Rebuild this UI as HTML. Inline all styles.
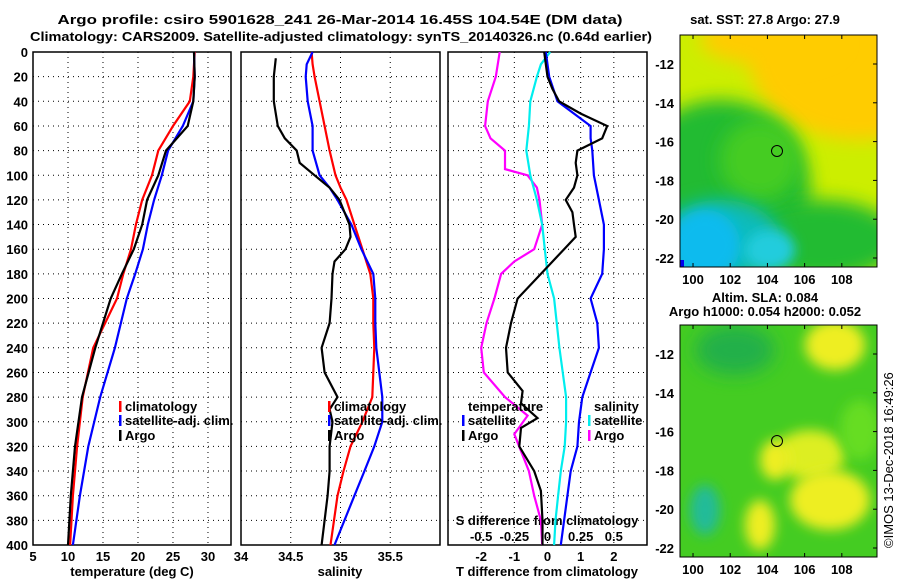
<!DOCTYPE html>
<html><head><meta charset="utf-8"><style>
body{margin:0;background:#fff}
svg text{font-family:"Liberation Sans",sans-serif;font-weight:bold;font-size:13px;fill:#000}
</style></head><body>
<svg id="c" width="900" height="580" xmlns="http://www.w3.org/2000/svg">
<defs>
<filter id="bl" x="-50%" y="-50%" width="200%" height="200%"><feGaussianBlur stdDeviation="9"/></filter>
<filter id="bl2" x="-50%" y="-50%" width="200%" height="200%"><feGaussianBlur stdDeviation="6"/></filter>
<clipPath id="m1"><rect x="680" y="35" width="197" height="232"/></clipPath>
<clipPath id="m2"><rect x="680" y="325" width="197" height="232"/></clipPath>
</defs>
<text x="340" y="24" text-anchor="middle" font-size="15" textLength="565" lengthAdjust="spacingAndGlyphs">Argo profile: csiro 5901628_241 26-Mar-2014 16.45S 104.54E (DM data)</text>
<text x="341" y="41" text-anchor="middle" font-size="15" textLength="622" lengthAdjust="spacingAndGlyphs">Climatology: CARS2009. Satellite-adjusted climatology: synTS_20140326.nc (0.64d earlier)</text>
<g id="axes"></g>
<g id="series"></g>
<g clip-path="url(#m1)">
<rect x="680" y="35" width="197" height="232" fill="#ccee00"/>
<ellipse cx="860" cy="60" rx="110" ry="80" fill="#ffcc00" filter="url(#bl)"/>
<ellipse cx="770" cy="40" rx="70" ry="25" fill="#ffcc00" filter="url(#bl)"/>
<ellipse cx="720" cy="190" rx="90" ry="90" fill="#22bb33" filter="url(#bl)"/>
<ellipse cx="820" cy="240" rx="80" ry="40" fill="#22bb33" filter="url(#bl)"/>
<ellipse cx="760" cy="160" rx="40" ry="40" fill="#44cc22" filter="url(#bl)"/>
<ellipse cx="720" cy="240" rx="60" ry="40" fill="#11bbbb" filter="url(#bl)"/>
<ellipse cx="705" cy="245" rx="35" ry="35" fill="#11bbee" filter="url(#bl2)"/>
<ellipse cx="770" cy="250" rx="25" ry="20" fill="#22ccdd" filter="url(#bl2)"/>
<rect x="680" y="260" width="4" height="7" fill="#0000ee"/>
</g>
<rect x="680" y="35" width="197" height="232" fill="none" stroke="#000"/>
<circle cx="777" cy="151" r="5.5" fill="none" stroke="#000"/>
<g clip-path="url(#m2)">
<rect x="680" y="325" width="197" height="232" fill="#44cc22"/>
<ellipse cx="835" cy="345" rx="30" ry="25" fill="#eeee22" filter="url(#bl2)"/>
<ellipse cx="735" cy="350" rx="40" ry="25" fill="#22b04a" filter="url(#bl)"/>
<ellipse cx="810" cy="455" rx="35" ry="25" fill="#ddee22" filter="url(#bl2)"/>
<ellipse cx="830" cy="500" rx="40" ry="30" fill="#eeee22" filter="url(#bl2)"/>
<ellipse cx="775" cy="460" rx="15" ry="20" fill="#eeee22" filter="url(#bl2)"/>
<ellipse cx="760" cy="525" rx="15" ry="25" fill="#eeee22" filter="url(#bl2)"/>
<ellipse cx="705" cy="510" rx="15" ry="25" fill="#22bb99" filter="url(#bl2)"/>
<ellipse cx="860" cy="430" rx="20" ry="30" fill="#66dd22" filter="url(#bl2)"/>
</g>
<rect x="680" y="325" width="197" height="232" fill="none" stroke="#000"/>
<circle cx="777" cy="441" r="5.5" fill="none" stroke="#000"/>
<text x="765" y="24" text-anchor="middle" font-size="12">sat. SST: 27.8 Argo: 27.9</text>
<text x="765" y="302" text-anchor="middle" font-size="12">Altim. SLA: 0.084</text>
<text x="765" y="316" text-anchor="middle" font-size="12">Argo h1000: 0.054 h2000: 0.052</text>
<text transform="translate(893,548) rotate(-90)" font-size="12" style="font-weight:normal">©IMOS 13-Dec-2018 16:49:26</text>
<g id="maptk"></g>
</svg>
<script>
const NS="http://www.w3.org/2000/svg";
const depths=[0,20,40,60,80,100,120,140,160,180,200,240,280,320,360,400];
const tClim=[28.1,27.9,27.4,25,22.9,22,20.6,19.7,19,17.9,17,13.6,12.1,11.3,10.7,10.3];
const tSat=[28,28.1,27.9,26.4,24.3,23.4,22.3,21.4,20.7,19.6,18.4,16.7,14.6,12.9,11.7,10.7];
const tArgo=[28,28.1,27.9,27.1,24,22.9,21.3,20.6,19.4,17.7,16.1,13.9,12,11,10.4,10];
const sDepths=[0,10,20,40,60,80,100,110,120,140,160,180,200,220,240,260,280,300,320,340,360,400];
const sClim=[34.71,34.72,34.74,34.79,34.84,34.89,34.95,35.0,35.06,35.14,35.22,35.3,35.33,35.33,35.34,35.33,35.32,35.22,35.1,35.03,34.97,34.9];
const sSat=[34.72,34.66,34.65,34.67,34.72,34.72,34.79,34.89,34.97,35.11,35.21,35.33,35.35,35.35,35.36,35.39,35.42,35.42,35.34,35.24,35.14,34.94];
const aDepths=[5,20,40,60,70,80,90,100,110,120,140,150,160,170,180,200,220,240,260,280,290,300,320,340,360,400];
const sArgo=[34.35,34.33,34.33,34.37,34.44,34.56,34.59,34.74,34.89,34.99,35.09,35.1,35.05,34.94,34.92,34.91,34.89,34.81,34.84,34.97,34.89,34.92,34.89,34.89,34.87,34.81];
const dDepths=[0,20,30,40,50,60,70,80,90,100,110,120,130,140,150,160,180,200,220,240,260,275,285,297,305,320,340,356,380,400];
const dTArgo=[-0.1,0,0.15,0.35,1,1.8,1.65,0.9,0.85,0.9,0.8,0.55,0.75,0.8,0.85,0.5,-0.2,-0.9,-1.1,-1.25,-1.2,-0.75,-0.8,-0.3,-0.8,-0.85,-0.4,-0.2,-0.15,-0.15];
const bDepths=[0,20,40,50,60,70,80,100,120,140,160,180,200,220,240,260,280,300,320,340,360,380,400];
const dTSat=[-0.05,0.05,0.3,0.8,1.3,1.3,1.35,1.4,1.55,1.7,1.7,1.65,1.3,1.5,1.55,1.3,1.05,0.95,0.9,0.7,0.6,0.5,0.4];
const cDepths=[0,10,20,40,60,80,100,120,140,160,180,200,240,280,300,320,340,360,380,400];
const dSSat=[0.02,-0.05,-0.08,-0.13,-0.14,-0.16,-0.13,-0.08,-0.04,-0.02,0,0.05,0.09,0.14,0.14,0.13,0.1,0.08,0.06,0.05];
const mDepths=[0,20,40,60,70,80,95,100,110,120,140,160,170,180,200,220,240,260,280,295,310,340,360,380,400];
const dSArgo=[-0.36,-0.39,-0.45,-0.47,-0.43,-0.32,-0.32,-0.15,-0.08,-0.06,-0.04,-0.1,-0.25,-0.35,-0.4,-0.46,-0.5,-0.48,-0.32,-0.15,-0.25,-0.14,-0.1,-0.05,-0.04];
const yTicks=[0,20,40,60,80,100,120,140,160,180,200,220,240,260,280,300,320,340,360,380,400];
const p1Ticks=[5,10,15,20,25,30];
const p2Ticks=[34,34.5,35,35.5];
const p3Ticks=[-2,-1,0,1,2];
const sTickLabels=["-0.5","-0.25","0","0.25","0.5"];
const sTickVals=[-0.5,-0.25,0,0.25,0.5];
const lonTicks=[100,102,104,106,108];
const latTicks=[-12,-14,-16,-18,-20,-22];

const Y0=52,Y1=545;
const y=d=>Y0+(Y1-Y0)*d/400;
const P=[{x0:33,x1:231,v0:5,v1:33.29},{x0:241,x1:440,v0:34,v1:36},{x0:448,x1:647,v0:-3,v1:3}];
const sx=(p,v)=>p.x0+(p.x1-p.x0)*(v-p.v0)/(p.v1-p.v0);
const sxS=v=>sx(P[2],v*4);
const ax=document.getElementById('axes'),se=document.getElementById('series'),mt=document.getElementById('maptk');
function el(tag,at,parent){const e=document.createElementNS(NS,tag);for(const k in at)e.setAttribute(k,at[k]);parent.appendChild(e);return e;}
function txt(x,yy,s,anchor,parent){const t=el('text',{x:x,y:yy,'text-anchor':anchor},parent);t.textContent=s;return t;}
const names=['temperature-panel','salinity-panel','difference-panel'];
const xt=[p1Ticks,p2Ticks,p3Ticks];
P.forEach((p,i)=>{
  const g=el('g',{},ax);
  
  
  yTicks.forEach(d=>{if(d>0&&d<400){const l=el('line',{x1:p.x0,x2:p.x1,y1:y(d),y2:y(d),stroke:'#000','stroke-dasharray':'1 4'},g);
    }});
  xt[i].forEach(v=>{const X=sx(p,v);
    if(X>p.x0+1){const l=el('line',{x1:X,x2:X,y1:Y0,y2:Y1,stroke:'#000','stroke-dasharray':'1 4'},g);
      }
    const t=txt(X,561,String(v),'middle',g);
    });
  const r=el('rect',{x:p.x0,y:Y0,width:p.x1-p.x0,height:Y1-Y0,fill:'none',stroke:'#000','stroke-width':1.5},g);
  
});
yTicks.forEach(d=>{const t=txt(28,y(d)+5,String(d),'end',ax);
  });
[['temperature (deg C)',132],['salinity',340],['T difference from climatology',547]].forEach(a=>{
  const t=txt(a[1],576,a[0],'middle',ax);});
sTickVals.forEach((v,i)=>{const t=txt(sxS(v),541,sTickLabels[i],'middle',ax);
  });
{const t=txt(547,525,'S difference from climatology','middle',ax);}

function line(ds,vs,fx,col,nm,w){
  const pts=ds.map((d,i)=>fx(vs[i]).toFixed(1)+','+y(d).toFixed(1)).join(' ');
  const l=el('polyline',{points:pts,fill:'none',stroke:col,'stroke-width':w||2.2},se);
  
  
}
line(depths,tClim,v=>sx(P[0],v),'#ff0000','temp-climatology-line');
line(depths,tSat,v=>sx(P[0],v),'#0000ff','temp-satellite-line');
line(depths,tArgo,v=>sx(P[0],v),'#000000','temp-argo-line');
line(sDepths,sClim,v=>sx(P[1],v),'#ff0000','sal-climatology-line');
line(sDepths,sSat,v=>sx(P[1],v),'#0000ff','sal-satellite-line');
line(aDepths,sArgo,v=>sx(P[1],v),'#000000','sal-argo-line');
line(mDepths,dSArgo,sxS,'#ff00ff','s-diff-argo-line');
line(cDepths,dSSat,sxS,'#00eeee','s-diff-satellite-line');
line(bDepths,dTSat,v=>sx(P[2],v),'#0000ff','t-diff-satellite-line');
line(dDepths,dTArgo,v=>sx(P[2],v),'#000000','t-diff-argo-line');

function leg(x,yy,col,s,nm){
  const g=el('g',{},se);
  if(col){el('rect',{x:x-6,y:yy-10,width:2.5,height:11,fill:col},g);}
  txt(x,yy,s,'start',g);
}
leg(125,411,'#ff0000','climatology','legend-climatology');
leg(125,425,'#0000ff','satellite-adj. clim.','legend-satellite');
leg(125,440,'#000000','Argo','legend-argo');
leg(334,411,'#ff0000','climatology','legend-climatology-sal');
leg(334,425,'#0000ff','satellite-adj. clim.','legend-satellite-sal');
leg(334,440,'#000000','Argo','legend-argo-sal');
leg(468,411,null,'temperature','legend-temperature-header');
leg(468,425,'#0000ff','satellite','legend-t-satellite');
leg(468,440,'#000000','Argo','legend-t-argo');
leg(594,411,null,'salinity','legend-salinity-header');
leg(594,425,'#00eeee','satellite','legend-s-satellite');
leg(594,440,'#ff00ff','Argo','legend-s-argo');

const lonX=v=>680+(v-99.3)*18.6, latY1=v=>64+(-12-v)*19.4, latY2=v=>354+(-12-v)*19.4;
lonTicks.forEach(v=>{[[35,267],[325,557]].forEach(b=>{
  el('line',{x1:lonX(v),x2:lonX(v),y1:b[0],y2:b[0]+4,stroke:'#000'},mt);
  el('line',{x1:lonX(v),x2:lonX(v),y1:b[1],y2:b[1]-4,stroke:'#000'},mt);});
  const t=txt(lonX(v),284,String(v),'middle',mt);
  const t2=txt(lonX(v),574,String(v),'middle',mt);});
latTicks.forEach(v=>{
  const t=txt(674,latY1(v)+5,String(v),'end',mt);
  el('line',{x1:873,x2:877,y1:latY1(v),y2:latY1(v),stroke:'#000'},mt);
  const t2=txt(674,latY2(v)+5,String(v),'end',mt);
  el('line',{x1:873,x2:877,y1:latY2(v),y2:latY2(v),stroke:'#000'},mt);
});
</script>
</body></html>
